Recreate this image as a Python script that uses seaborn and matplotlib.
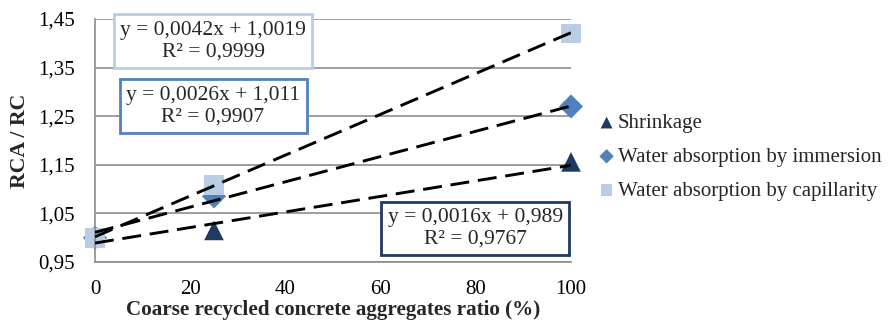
import matplotlib
matplotlib.use("Agg")
import matplotlib.pyplot as plt
import numpy as np
import pandas as pd
import seaborn as sns
from matplotlib.ticker import FuncFormatter

# Measured ratios RCA / RC against coarse recycled aggregate replacement
ratio = [0, 25, 100]
shrinkage = [1.000, 1.015, 1.156]
immersion = [1.000, 1.085, 1.270]
capillarity = [1.000, 1.108, 1.420]

series_names = ["Shrinkage", "Water absorption by immersion", "Water absorption by capillarity"]

# Linear trend lines (slope, intercept, R²)
slopes = [0.0016, 0.0026, 0.0042]
intercepts = [0.989, 1.011, 1.0019]
r_squared = [0.9767, 0.9907, 0.9999]

colors = ["#1F3A60", "#4F81BD", "#B9CDE5"]
markers = ["^", "D", "s"]
sizes = [200, 150, 200]

sns.set_theme(style="white")
plt.rcParams["font.family"] = ["Liberation Serif", "DejaVu Serif"]

df = pd.DataFrame({
    "ratio": ratio * 3,
    "value": shrinkage + immersion + capillarity,
    "series": [n for n in series_names for _ in ratio],
})

fig = plt.figure(figsize=(8.91, 3.22), dpi=100)
ax = fig.add_axes([95 / 891, 1 - 262 / 322, (571 - 95) / 891, (262 - 19) / 322])

# Trend lines
xs = np.array([0, 100])
for s, b in zip(slopes, intercepts):
    ax.plot(xs, s * xs + b, color="black", lw=2.1, ls=(0, (6.5, 3)), zorder=3)

# Data points (capillarity drawn on top, as the last series)
for name, col, mk, sz in zip(series_names, colors, markers, sizes):
    sub = df[df["series"] == name]
    sns.scatterplot(data=sub, x="ratio", y="value", color=col, marker=mk, s=sz,
                    edgecolor="none", ax=ax, zorder=2, clip_on=False, label=name)

ax.set_xlim(0, 100)
ax.set_ylim(0.95, 1.45)
ax.set_xticks(np.arange(0, 101, 20))
ax.set_yticks(np.arange(0.95, 1.451, 0.1))
ax.yaxis.set_major_formatter(FuncFormatter(lambda v, p: f"{v:.2f}".replace(".", ",")))
ax.grid(axis="y", color="#8C8C8C", lw=1.2)
ax.grid(axis="x", visible=False)
for side in ["top", "right"]:
    ax.spines[side].set_visible(False)
for side in ["left", "bottom"]:
    ax.spines[side].set_color("#8C8C8C")
    ax.spines[side].set_linewidth(1.2)
ax.tick_params(axis="both", direction="out", length=5, width=1.2, color="#8C8C8C",
               labelsize=15, labelcolor="black")
ax.tick_params(axis="y", pad=9.5)
ax.tick_params(axis="x", pad=8)
ax.set_xlabel("Coarse recycled concrete aggregates ratio (%)", fontsize=15.2,
              fontweight="bold", labelpad=1)
ax.set_ylabel("RCA / RC", fontsize=15.7, fontweight="bold", labelpad=6)

# Equation boxes
box_pos = [(79.9, 1.019), (24.8, 1.2706), (24.8, 1.4046)]
for (bx, by), s, b, r2, col in zip(box_pos, slopes, intercepts, r_squared, colors):
    eq_s = f"{s:.4f}".replace(".", ",")
    eq_b = f"{b:g}".replace(".", ",")
    r2_s = f"{r2:.4f}".replace(".", ",")
    ax.text(bx, by, f"y = {eq_s}x + {eq_b}\nR² = {r2_s}", ha="center", va="center",
            fontsize=15.5, linespacing=1.2, zorder=5,
            bbox=dict(boxstyle="square,pad=0.3", fc="white", ec=col, lw=2))

leg = ax.legend(loc="center left", bbox_to_anchor=(592 / 891, 1 - 157 / 322),
                bbox_transform=fig.transFigure, frameon=False,
                fontsize=15, handlelength=0.6, handletextpad=0.25,
                labelspacing=0.68, markerscale=0.6, borderaxespad=0)
fig.savefig("out.png", dpi=100)
